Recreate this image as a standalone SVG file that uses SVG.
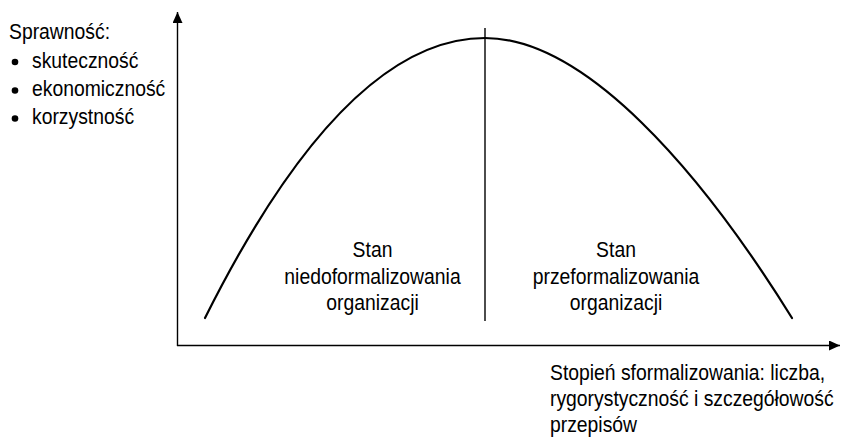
<svg xmlns="http://www.w3.org/2000/svg" width="841" height="442" viewBox="0 0 841 442">
<style>
text{font-family:"Liberation Sans",Arial,sans-serif;font-size:21.5px;fill:#000}
.mid{text-anchor:middle}
.axis{stroke:#000;stroke-width:1.4;fill:none}
.curve{stroke:#000;stroke-width:2.2;fill:none;stroke-linecap:round}
</style>
<defs>
<marker id="arr" markerWidth="11" markerHeight="10" refX="11" refY="5" orient="auto" markerUnits="userSpaceOnUse">
<path d="M0,0 L11,5 L0,10 Z" fill="#000"/>
</marker>
</defs>
<g id="connectors">
<line class="axis" x1="177.5" y1="346" x2="177.5" y2="12" marker-end="url(#arr)"/>
<line class="axis" x1="177" y1="345.5" x2="840" y2="345.5" marker-end="url(#arr)"/>
<line class="axis" x1="485" y1="28" x2="485" y2="321"/>
<path class="curve" d="M205,318 Q345,38 485,38 C585,38 700,170 792,318"/>
</g>
<g id="legend">
<text transform="translate(9,39) scale(0.9,1)">Sprawność:</text>
<circle cx="15" cy="62" r="3.3" fill="#000"/>
<text transform="translate(32,67.5) scale(0.9,1)">skuteczność</text>
<circle cx="15" cy="90.5" r="3.3" fill="#000"/>
<text transform="translate(32,96) scale(0.9,1)">ekonomiczność</text>
<circle cx="15" cy="118.5" r="3.3" fill="#000"/>
<text transform="translate(32,124) scale(0.9,1)">korzystność</text>
</g>
<g id="left-state">
<text class="mid" transform="translate(372.5,257) scale(0.9,1)">Stan</text>
<text class="mid" transform="translate(372.5,284) scale(0.9,1)">niedoformalizowania</text>
<text class="mid" transform="translate(372.5,310) scale(0.9,1)">organizacji</text>
</g>
<g id="right-state">
<text class="mid" transform="translate(616,257) scale(0.9,1)">Stan</text>
<text class="mid" transform="translate(616,284) scale(0.9,1)">przeformalizowania</text>
<text class="mid" transform="translate(616,310) scale(0.9,1)">organizacji</text>
</g>
<g id="x-label">
<text transform="translate(550,380) scale(0.9,1)">Stopień sformalizowania: liczba,</text>
<text transform="translate(550,406) scale(0.9,1)">rygorystyczność i szczegółowość</text>
<text transform="translate(550,432) scale(0.9,1)">przepisów</text>
</g>
</svg>
